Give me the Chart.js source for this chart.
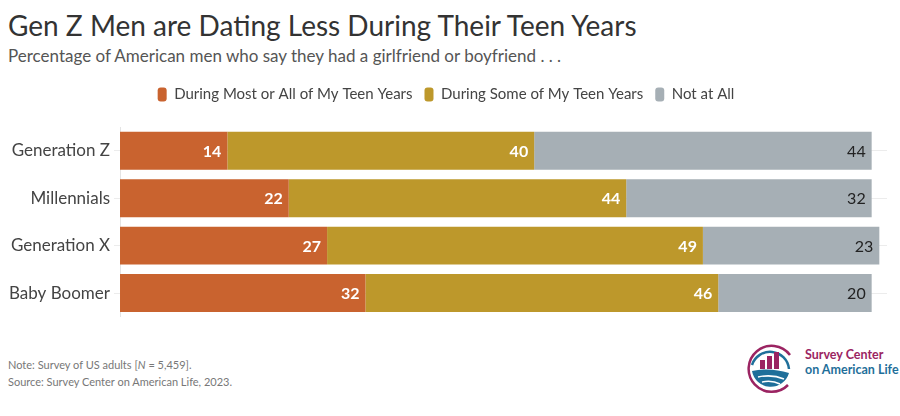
<!DOCTYPE html>
<html>
<head>
<meta charset="utf-8">
<script src="https://cdn.jsdelivr.net/npm/chart.js@4"></script>
<style>
  body { margin: 0; background: #fff; }
  #wrap { position: relative; width: 900px; height: 416px; overflow: hidden; font-family: Lato, sans-serif; }
  #title { position: absolute; left: 8px; top: 8px; font-size: 28px; color: #333; white-space: nowrap; }
  #subtitle { position: absolute; left: 8px; top: 45px; font-size: 17px; color: #555; white-space: nowrap; }
  #chartBox { position: absolute; left: 0; top: 75px; width: 900px; height: 256px; }
  #note { position: absolute; left: 8px; top: 356px; font-size: 11px; line-height: 17px; color: #777; }
  #logo { position: absolute; left: 744px; top: 343px; }
  #logoText { position: absolute; left: 805px; top: 347px; font-size: 12.5px; font-weight: bold; line-height: 15px; }
</style>
</head>
<body>
<div id="wrap">
  <div id="title">Gen Z Men are Dating Less During Their Teen Years</div>
  <div id="subtitle">Percentage of American men who say they had a girlfriend or boyfriend . . .</div>
  <div id="chartBox"><canvas id="chart" width="900" height="256"></canvas></div>
  <div id="note">Note: Survey of US adults [<i>N</i> = 5,459].<br>Source: Survey Center on American Life, 2023.</div>
  <svg id="logo" width="52" height="52" viewBox="0 0 52 52">
    <path d="M 46 12 A 23 23 0 1 0 44 42" fill="none" stroke="#9b2462" stroke-width="2.5"/>
    <path d="M 8 22 A 19 19 0 0 1 45 26" fill="none" stroke="#1f6f9a" stroke-width="2.5"/>
    <rect x="16" y="17" width="5" height="9" fill="#9b2462"/>
    <rect x="23" y="13" width="5" height="13" fill="#9b2462"/>
    <rect x="30" y="9" width="5" height="17" fill="#9b2462"/>
    <path d="M 8 28 Q 26 24 45 30 A 19 19 0 0 1 8 28 Z" fill="#1f6f9a"/>
    <path d="M 14 34 Q 28 31 40 36" fill="none" stroke="#fff" stroke-width="1.5"/>
    <path d="M 18 39 Q 28 37 36 41" fill="none" stroke="#fff" stroke-width="1.5"/>
  </svg>
  <div id="logoText"><span style="color:#9b2462">Survey Center</span><br><span style="color:#1f6f9a">on American Life</span></div>
</div>
<script>
const categories = ['Generation Z', 'Millennials', 'Generation X', 'Baby Boomer'];
const seriesNames = ['During Most or All of My Teen Years', 'During Some of My Teen Years', 'Not at All'];
const mostYears = [14, 22, 27, 32];
const someYears = [40, 44, 49, 46];
const notAtAll = [44, 32, 23, 20];
const colors = ['#c9632f', '#bd982b', '#a6afb5'];

const labelColors = ['#fff', '#fff', '#222'];
const labelWeights = ['bold', 'bold', 'normal'];

// draws the value at the right end of each segment
const valueLabels = {
  id: 'valueLabels',
  afterDatasetsDraw(chart) {
    const ctx = chart.ctx;
    ctx.save();
    ctx.textAlign = 'right';
    ctx.textBaseline = 'middle';
    chart.data.datasets.forEach((ds, i) => {
      const meta = chart.getDatasetMeta(i);
      ctx.fillStyle = labelColors[i];
      ctx.font = labelWeights[i] + ' 16px Lato';
      meta.data.forEach((bar, j) => {
        ctx.fillText(ds.data[j], bar.x - 6, bar.y + 1);
      });
    });
    ctx.restore();
  }
};

// a bit more room between legend and bars
const legendGap = {
  id: 'legendGap',
  beforeInit(chart) {
    const fit = chart.legend.fit;
    chart.legend.fit = function () {
      fit.bind(chart.legend)();
      this.height += 15;
    };
  }
};

new Chart(document.getElementById('chart'), {
  type: 'bar',
  data: {
    labels: categories,
    datasets: [
      { label: seriesNames[0], data: mostYears, backgroundColor: colors[0] },
      { label: seriesNames[1], data: someYears, backgroundColor: colors[1] },
      { label: seriesNames[2], data: notAtAll, backgroundColor: colors[2] }
    ]
  },
  options: {
    indexAxis: 'y',
    responsive: false,
    animation: false,
    layout: { padding: { left: 5, right: 13, bottom: 6, top: 0 } },
    datasets: { bar: { barPercentage: 0.8, categoryPercentage: 1.0 } },
    plugins: {
      legend: {
        display: true,
        labels: {
          boxWidth: 9,
          boxHeight: 14,
          useBorderRadius: true,
          borderRadius: 3,
          color: '#444',
          font: { family: 'Lato', size: 15 },
          padding: 12
        }
      },
      tooltip: { enabled: false }
    },
    scales: {
      x: {
        stacked: true,
        display: false,
        min: 0,
        max: 100
      },
      y: {
        stacked: true,
        grid: { offset: false, color: '#ececec', tickLength: 6 },
        border: { color: '#e4e4e4' },
        ticks: { color: '#444', font: { family: 'Lato', size: 17 }, padding: 4 }
      }
    }
  },
  plugins: [valueLabels, legendGap]
});
</script>
</body>
</html>
